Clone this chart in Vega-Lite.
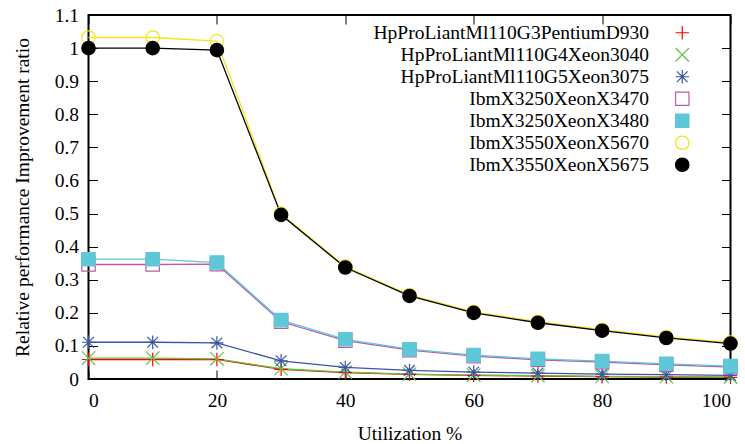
{
  "$schema": "https://vega.github.io/schema/vega-lite/v6.json",
  "width": 642,
  "height": 364,
  "autosize": {"type": "none"},
  "padding": {"left": 88.5, "top": 15, "right": 14.5, "bottom": 65},
  "background": "white",
  "config": {
    "font": "Liberation Serif",
    "view": {"stroke": "black", "strokeWidth": 2},
    "axis": {
      "domain": false,
      "grid": false,
      "tickSize": -9,
      "tickColor": "black",
      "tickWidth": 1,
      "labelFont": "Liberation Serif",
      "labelFontSize": 19.5,
      "labelColor": "black",
      "titleFont": "Liberation Serif",
      "titleFontSize": 19.5,
      "titleFontWeight": "normal",
      "titleColor": "black"
    },
    "legend": {
      "title": null,
      "orient": "none",
      "legendX": 584,
      "legendY": 8,
      "labelAlign": "right",
      "labelOffset": -43,
      "symbolSize": 180,
      "symbolStrokeWidth": 1.2,
      "rowPadding": 1,
      "padding": 0,
      "labelFont": "Liberation Serif",
      "labelFontSize": 19.5,
      "labelColor": "black",
      "labelLimit": 400
    }
  },
  "data": {
    "values": [
      {"series": "HpProLiantMl110G3PentiumD930", "u": 0, "r": 0.059},
      {"series": "HpProLiantMl110G3PentiumD930", "u": 10, "r": 0.059},
      {"series": "HpProLiantMl110G3PentiumD930", "u": 20, "r": 0.059},
      {"series": "HpProLiantMl110G3PentiumD930", "u": 30, "r": 0.029},
      {"series": "HpProLiantMl110G3PentiumD930", "u": 40, "r": 0.019},
      {"series": "HpProLiantMl110G3PentiumD930", "u": 50, "r": 0.014},
      {"series": "HpProLiantMl110G3PentiumD930", "u": 60, "r": 0.011},
      {"series": "HpProLiantMl110G3PentiumD930", "u": 70, "r": 0.009},
      {"series": "HpProLiantMl110G3PentiumD930", "u": 80, "r": 0.007},
      {"series": "HpProLiantMl110G3PentiumD930", "u": 90, "r": 0.006},
      {"series": "HpProLiantMl110G3PentiumD930", "u": 100, "r": 0.005},
      {"series": "HpProLiantMl110G4Xeon3040", "u": 0, "r": 0.063},
      {"series": "HpProLiantMl110G4Xeon3040", "u": 10, "r": 0.063},
      {"series": "HpProLiantMl110G4Xeon3040", "u": 20, "r": 0.061},
      {"series": "HpProLiantMl110G4Xeon3040", "u": 30, "r": 0.031},
      {"series": "HpProLiantMl110G4Xeon3040", "u": 40, "r": 0.021},
      {"series": "HpProLiantMl110G4Xeon3040", "u": 50, "r": 0.015},
      {"series": "HpProLiantMl110G4Xeon3040", "u": 60, "r": 0.012},
      {"series": "HpProLiantMl110G4Xeon3040", "u": 70, "r": 0.010},
      {"series": "HpProLiantMl110G4Xeon3040", "u": 80, "r": 0.008},
      {"series": "HpProLiantMl110G4Xeon3040", "u": 90, "r": 0.007},
      {"series": "HpProLiantMl110G4Xeon3040", "u": 100, "r": 0.006},
      {"series": "HpProLiantMl110G5Xeon3075", "u": 0, "r": 0.111},
      {"series": "HpProLiantMl110G5Xeon3075", "u": 10, "r": 0.111},
      {"series": "HpProLiantMl110G5Xeon3075", "u": 20, "r": 0.109},
      {"series": "HpProLiantMl110G5Xeon3075", "u": 30, "r": 0.055},
      {"series": "HpProLiantMl110G5Xeon3075", "u": 40, "r": 0.035},
      {"series": "HpProLiantMl110G5Xeon3075", "u": 50, "r": 0.026},
      {"series": "HpProLiantMl110G5Xeon3075", "u": 60, "r": 0.021},
      {"series": "HpProLiantMl110G5Xeon3075", "u": 70, "r": 0.018},
      {"series": "HpProLiantMl110G5Xeon3075", "u": 80, "r": 0.015},
      {"series": "HpProLiantMl110G5Xeon3075", "u": 90, "r": 0.013},
      {"series": "HpProLiantMl110G5Xeon3075", "u": 100, "r": 0.011},
      {"series": "IbmX3250XeonX3470", "u": 0, "r": 0.346},
      {"series": "IbmX3250XeonX3470", "u": 10, "r": 0.346},
      {"series": "IbmX3250XeonX3470", "u": 20, "r": 0.347},
      {"series": "IbmX3250XeonX3470", "u": 30, "r": 0.173},
      {"series": "IbmX3250XeonX3470", "u": 40, "r": 0.116},
      {"series": "IbmX3250XeonX3470", "u": 50, "r": 0.087},
      {"series": "IbmX3250XeonX3470", "u": 60, "r": 0.069},
      {"series": "IbmX3250XeonX3470", "u": 70, "r": 0.058},
      {"series": "IbmX3250XeonX3470", "u": 80, "r": 0.051},
      {"series": "IbmX3250XeonX3470", "u": 90, "r": 0.043},
      {"series": "IbmX3250XeonX3470", "u": 100, "r": 0.036},
      {"series": "IbmX3250XeonX3480", "u": 0, "r": 0.362},
      {"series": "IbmX3250XeonX3480", "u": 10, "r": 0.362},
      {"series": "IbmX3250XeonX3480", "u": 20, "r": 0.352},
      {"series": "IbmX3250XeonX3480", "u": 30, "r": 0.178},
      {"series": "IbmX3250XeonX3480", "u": 40, "r": 0.120},
      {"series": "IbmX3250XeonX3480", "u": 50, "r": 0.090},
      {"series": "IbmX3250XeonX3480", "u": 60, "r": 0.072},
      {"series": "IbmX3250XeonX3480", "u": 70, "r": 0.061},
      {"series": "IbmX3250XeonX3480", "u": 80, "r": 0.054},
      {"series": "IbmX3250XeonX3480", "u": 90, "r": 0.046},
      {"series": "IbmX3250XeonX3480", "u": 100, "r": 0.039},
      {"series": "IbmX3550XeonX5670", "u": 0, "r": 1.032},
      {"series": "IbmX3550XeonX5670", "u": 10, "r": 1.032},
      {"series": "IbmX3550XeonX5670", "u": 20, "r": 1.021},
      {"series": "IbmX3550XeonX5670", "u": 30, "r": 0.499},
      {"series": "IbmX3550XeonX5670", "u": 40, "r": 0.340},
      {"series": "IbmX3550XeonX5670", "u": 50, "r": 0.254},
      {"series": "IbmX3550XeonX5670", "u": 60, "r": 0.203},
      {"series": "IbmX3550XeonX5670", "u": 70, "r": 0.173},
      {"series": "IbmX3550XeonX5670", "u": 80, "r": 0.149},
      {"series": "IbmX3550XeonX5670", "u": 90, "r": 0.127},
      {"series": "IbmX3550XeonX5670", "u": 100, "r": 0.110},
      {"series": "IbmX3550XeonX5675", "u": 0, "r": 1.0},
      {"series": "IbmX3550XeonX5675", "u": 10, "r": 1.0},
      {"series": "IbmX3550XeonX5675", "u": 20, "r": 0.994},
      {"series": "IbmX3550XeonX5675", "u": 30, "r": 0.496},
      {"series": "IbmX3550XeonX5675", "u": 40, "r": 0.337},
      {"series": "IbmX3550XeonX5675", "u": 50, "r": 0.251},
      {"series": "IbmX3550XeonX5675", "u": 60, "r": 0.200},
      {"series": "IbmX3550XeonX5675", "u": 70, "r": 0.170},
      {"series": "IbmX3550XeonX5675", "u": 80, "r": 0.146},
      {"series": "IbmX3550XeonX5675", "u": 90, "r": 0.124},
      {"series": "IbmX3550XeonX5675", "u": 100, "r": 0.107}
    ]
  },
  "layer": [
    {
      "mark": {"type": "line", "strokeWidth": 1.3},
      "encoding": {
        "x": {
          "field": "u", "type": "quantitative",
          "scale": {"domain": [0, 100], "nice": false},
          "axis": {"values": [0, 20, 40, 60, 80, 100], "labelPadding": 21, "titlePadding": 15},
          "title": "Utilization %"
        },
        "y": {
          "field": "r", "type": "quantitative",
          "scale": {"domain": [0, 1.1], "nice": false},
          "axis": {"values": [0, 0.1, 0.2, 0.3, 0.4, 0.5, 0.6, 0.7, 0.8, 0.9, 1.0, 1.1], "format": ".2~f", "labelPadding": 19, "titlePadding": 22},
          "title": "Relative performance Improvement ratio"
        },
        "stroke": {
          "field": "series", "type": "nominal",
          "title": null,
          "scale": {
            "domain": ["HpProLiantMl110G3PentiumD930", "HpProLiantMl110G4Xeon3040", "HpProLiantMl110G5Xeon3075", "IbmX3250XeonX3470", "IbmX3250XeonX3480", "IbmX3550XeonX5670", "IbmX3550XeonX5675"],
            "range": ["#ff0000", "#63c144", "#3b55a6", "#b95ca8", "#5ec8d8", "#f2e61a", "#000000"]
          }
        }
      }
    },
    {
      "mark": {"type": "point", "size": 180, "strokeWidth": 1.2, "opacity": 1},
      "encoding": {
        "x": {"field": "u", "type": "quantitative", "axis": {"orient": "top", "values": [0, 20, 40, 60, 80, 100], "labels": false, "title": null}},
        "y": {"field": "r", "type": "quantitative", "axis": {"orient": "right", "values": [0, 0.1, 0.2, 0.3, 0.4, 0.5, 0.6, 0.7, 0.8, 0.9, 1.0, 1.1], "labels": false, "title": null}},
        "stroke": {"field": "series", "type": "nominal", "title": null},
        "fill": {
          "field": "series", "type": "nominal", "title": null,
          "scale": {
            "domain": ["HpProLiantMl110G3PentiumD930", "HpProLiantMl110G4Xeon3040", "HpProLiantMl110G5Xeon3075", "IbmX3250XeonX3470", "IbmX3250XeonX3480", "IbmX3550XeonX5670", "IbmX3550XeonX5675"],
            "range": ["transparent", "transparent", "transparent", "transparent", "#5ec8d8", "transparent", "#000000"]
          }
        },
        "shape": {
          "field": "series", "type": "nominal", "title": null,
          "scale": {
            "domain": ["HpProLiantMl110G3PentiumD930", "HpProLiantMl110G4Xeon3040", "HpProLiantMl110G5Xeon3075", "IbmX3250XeonX3470", "IbmX3250XeonX3480", "IbmX3550XeonX5670", "IbmX3550XeonX5675"],
            "range": ["M-1,0L1,0M0,-1L0,1", "M-1,-1L1,1M-1,1L1,-1", "M-1,0L1,0M0,-1L0,1M-0.8,-0.8L0.8,0.8M-0.8,0.8L0.8,-0.8", "M-1,-1L1,-1L1,1L-1,1Z", "M-1,-1L1,-1L1,1L-1,1Z", "M-1,0A1,1 0 1,0 1,0A1,1 0 1,0 -1,0Z", "M-1,0A1,1 0 1,0 1,0A1,1 0 1,0 -1,0Z"]
          }
        }
      }
    }
  ],
  "resolve": {"axis": {"x": "independent", "y": "independent"}}
}
